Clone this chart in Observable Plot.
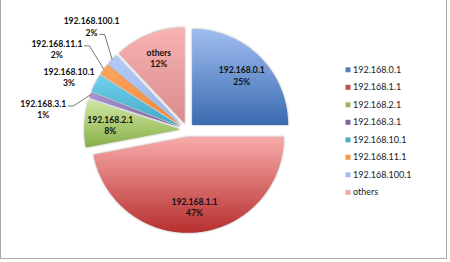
<!DOCTYPE html>
<html><head><meta charset="utf-8">
<script src="https://cdn.jsdelivr.net/npm/d3@7"></script>
<script src="https://cdn.jsdelivr.net/npm/@observablehq/plot@0.6"></script>
<style>
html,body{margin:0;padding:0;background:#fff;}
#wrap{position:relative;width:450px;height:262px;overflow:hidden;}
#frame{position:absolute;left:0;top:0;width:445px;height:258px;border-left:1px solid #a8a8a8;border-right:1px solid #a8a8a8;border-bottom:1px solid #a8a8a8;pointer-events:none;}
#chart svg{display:block;}
#chart svg g[fill^="url(#grad"]{filter:drop-shadow(0 0 1px rgba(0,0,0,0.35));}
</style></head><body>
<div id="wrap"><div id="chart"></div><div id="frame"></div></div>
<script>
// ---- data ----
const names = ["192.168.0.1","192.168.1.1","192.168.2.1","192.168.3.1","192.168.10.1","192.168.11.1","192.168.100.1","others"];
const shares = [25,47,8,1,3,2,2,12];
// ---- styles ----
const legendColors = ["#4f81bd","#c0504d","#9bbb59","#8064a2","#4bacc6","#f79646","#a3bdef","#f0a9a9"];
const gradTop    = ["#a0bdf0","#f7abaa","#cfe8a3","#ab98d4","#72d1ec","#fba661","#b4caf5","#f8b3b3"];
const gradBottom = ["#3a6bb1","#b72f2e","#88af47","#7b60a3","#3fa7c7","#f3873a","#99b5ec","#da8b8b"];
const insideSlices = [0,1,2,7];
// annotation nudges for Excel-style outside labels (relative to slice outer point)
const outsideNudge = {3:[-47,14], 4:[-26.5,-6.5], 5:[-47,-20.5], 6:[-20.5,-33]};
const withLeader = [3,5,6];

const W = 450, H = 262;
const cx = 186.7, cy = 129.4, R = 96, explode = 7;
const FONT = "Lato, 'Liberation Sans', sans-serif";
const LABEL_SIZE = 8.6;

const pie = d3.pie().sort(null).value(d => d)(shares);
const slices = pie.map((p, i) => {
  const mid = (p.startAngle + p.endAngle) / 2;
  const ax = cx + explode * Math.sin(mid), ay = cy - explode * Math.cos(mid);
  const n = Math.max(2, Math.ceil((p.endAngle - p.startAngle) / (Math.PI / 360)));
  const pts = [{x: ax, y: ay}];
  for (let k = 0; k <= n; k++) {
    const a = p.startAngle + (p.endAngle - p.startAngle) * k / n;
    pts.push({x: ax + R * Math.sin(a), y: ay - R * Math.cos(a)});
  }
  return {i, name: names[i], share: shares[i], mid, ax, ay, pts,
          ox: ax + R * Math.sin(mid), oy: ay - R * Math.cos(mid)};
});

const canvas = document.createElement("canvas").getContext("2d");
canvas.font = `bold ${LABEL_SIZE}px Lato`;
const textW = s => canvas.measureText(s).width;

const inLabels = insideSlices.map(i => {
  const s = slices[i];
  return {x: s.ax + 0.73 * R * Math.sin(s.mid), y: s.ay - 0.73 * R * Math.cos(s.mid),
          t: `${s.name}\n${s.share}%`};
});
const outLabels = Object.keys(outsideNudge).map(Number).map(i => {
  const s = slices[i];
  return {i, x: s.ox + outsideNudge[i][0], y: s.oy + outsideNudge[i][1], t: `${s.name}\n${s.share}%`};
});
const leaders = withLeader.map(i => {
  const s = slices[i];
  const L = outLabels.find(d => d.i === i);
  // attach to the right side of the first line, or of the short percentage line
  const onSecond = textW(s.name) > 55;
  const x0 = L.x + (onSecond ? textW(`${s.share}%`) : textW(s.name)) / 2 + 2;
  const y0 = onSecond ? L.y + 8 : L.y - 3;
  return [{i, x: x0, y: y0}, {i, x: x0 + 5, y: y0}, {i, x: s.ox, y: s.oy}];
}).flat();

const legendRows = names.map((n, i) => ({n, i, y: 69.3 + i * 17.5}));

const svg = Plot.plot({
  width: W, height: H,
  margin: 0,
  x: {domain: [0, W], range: [0, W], axis: null},
  y: {domain: [0, H], range: [0, H], axis: null},
  style: {background: "transparent", overflow: "visible"},
  marks: [
    ...slices.map(s => Plot.line(s.pts, {x: "x", y: "y", curve: "linear-closed",
        fill: `url(#grad${s.i})`, stroke: "none"})),
    Plot.line(leaders, {x: "x", y: "y", z: "i", stroke: "#555", strokeWidth: 0.8}),
    Plot.text(inLabels, {x: "x", y: "y", text: "t", fontSize: LABEL_SIZE, fontWeight: "bold",
        fontFamily: FONT, lineHeight: 1.3, fill: "#111", textAnchor: "middle"}),
    Plot.text(outLabels, {x: "x", y: "y", text: "t", fontSize: LABEL_SIZE, fontWeight: "bold",
        fontFamily: FONT, lineHeight: 1.3, fill: "#111", textAnchor: "middle"}),
    Plot.dot(legendRows, {x: () => 347.5, y: "y", symbol: "square", r: 2.82,
        fill: d => legendColors[d.i], stroke: "none"}),
    Plot.text(legendRows, {x: () => 352.5, y: "y", text: "n", textAnchor: "start",
        fontSize: 9, fontFamily: FONT, fill: "#222"})
  ]
});

const defs = d3.select(svg).insert("defs", ":first-child");
slices.forEach(s => {
  const g = defs.append("linearGradient").attr("id", `grad${s.i}`)
    .attr("x1", 0).attr("y1", 0).attr("x2", 0).attr("y2", 1);
  g.append("stop").attr("offset", "0%").attr("stop-color", gradTop[s.i]);
  g.append("stop").attr("offset", "100%").attr("stop-color", gradBottom[s.i]);
});
document.getElementById("chart").appendChild(svg);
</script>
</body></html>
